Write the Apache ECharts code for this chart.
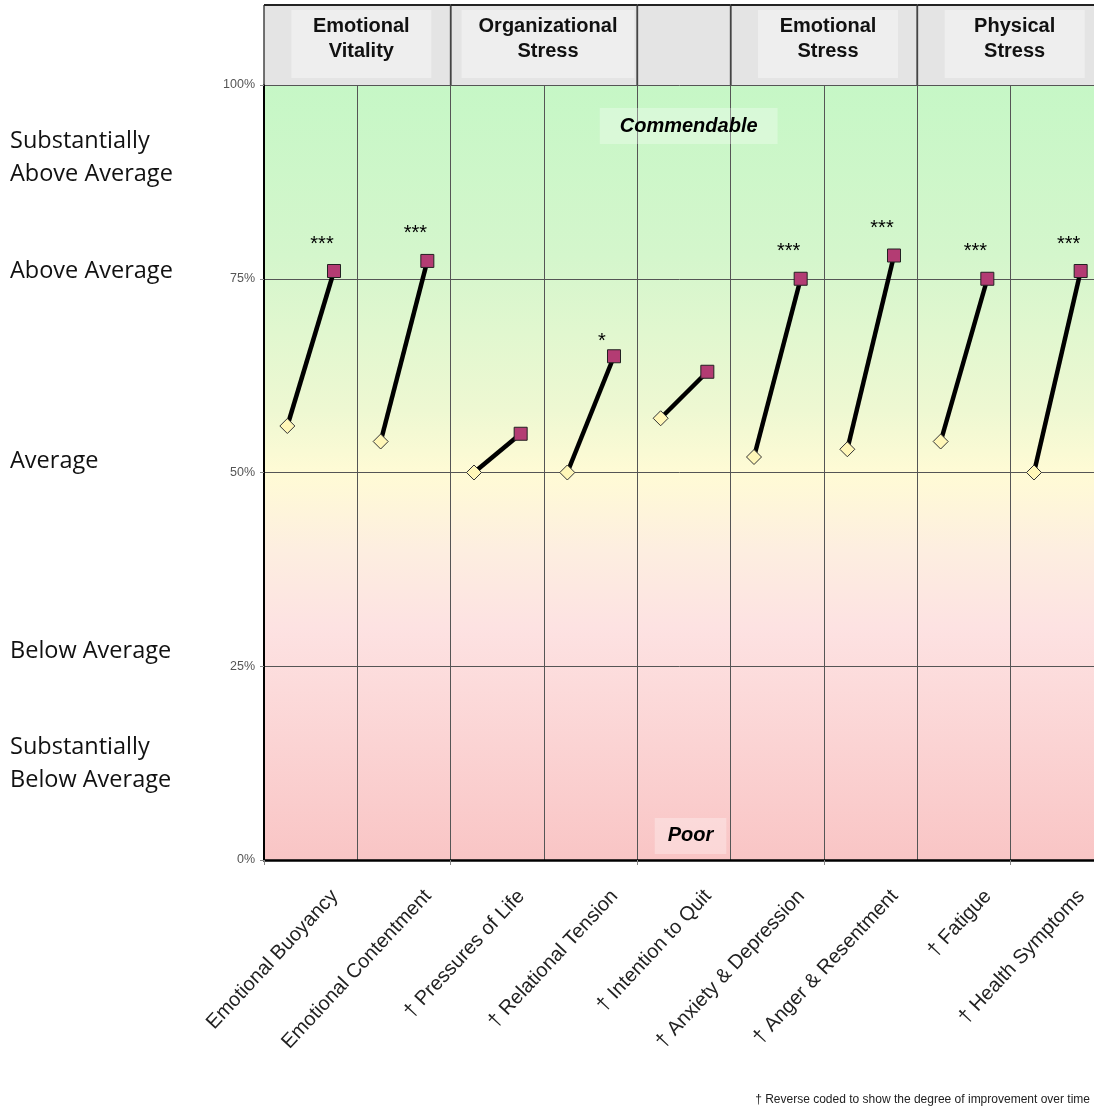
<!DOCTYPE html>
<html><head><meta charset="utf-8">
<script src="https://cdn.jsdelivr.net/npm/echarts@6/dist/echarts.min.js"></script>
<style>html,body{margin:0;padding:0;background:#fff}#c{width:1094px;height:1114px}</style>
</head><body><div id="c"></div>
<script>
const categories = ['Emotional Buoyancy','Emotional Contentment','† Pressures of Life','† Relational Tension','† Intention to Quit','† Anxiety & Depression','† Anger & Resentment','† Fatigue','† Health Symptoms'];
const before = [56, 54, 50, 50, 57, 52, 53, 54, 50];
const after = [76, 77.3, 55, 65, 63, 75, 78, 75, 76];
const significance = ['***','***','','*','','***','***','***','***'];
const groupNames = ['Emotional\nVitality','Organizational\nStress','','Emotional\nStress','Physical\nStress'];
const groupStart = [0, 2, 4, 5, 7];
const groupEnd = [2, 4, 5, 7, 9];
const bandLabels = ['Substantially\nAbove Average','Above Average','Average','Below Average','Substantially\nBelow Average'];
const zoneLabels = ['Commendable','Poor'];
const footnote = '† Reverse coded to show the degree of improvement over time';

const FONT = '"Liberation Sans", Arial, sans-serif';
const chart = echarts.init(document.getElementById('c'));

const mctx = document.createElement('canvas').getContext('2d');
mctx.font = 'bold 20px ' + FONT;
function textW(t){ return Math.max.apply(null, t.split('\n').map(s => mctx.measureText(s).width)); }

function renderHeader(params, api){
  const s = api.value(0), e = api.value(1);
  const p0 = api.coord([s, 1]);
  const p1 = api.coord([e, 0]);
  const name = groupNames[params.dataIndex];
  const cx = (p0[0] + p1[0]) / 2 + 4;
  const children = [];
  if (name) {
    const w = Math.max(textW(name) + 34, 140);
    children.push({type:'rect', shape:{x: cx - w/2, y: p0[1] + 5, width: w, height: p1[1] - p0[1] - 12}, style:{fill:'#eeeeee'}});
    children.push({type:'text', style:{text: name, x: cx, y: (p0[1] + p1[1]) / 2 - 6, align:'center', verticalAlign:'middle', font:'bold 20px ' + FONT, fill:'#111', lineHeight: 25}});
  }
  children.push({type:'line', shape:{x1:p0[0], y1:p0[1], x2:p0[0], y2:p1[1]}, style:{stroke:'#444', lineWidth:1.5}});
  children.push({type:'line', shape:{x1:p1[0], y1:p0[1], x2:p1[0], y2:p1[1]}, style:{stroke:'#444', lineWidth:1.5}});
  children.push({type:'line', shape:{x1:p0[0], y1:p0[1], x2:p1[0], y2:p0[1]}, style:{stroke:'#222', lineWidth:2}});
  return {type:'group', children};
}

function renderSegment(params, api){
  const a = api.coord([api.value(0), api.value(1)]);
  const b = api.coord([api.value(2), api.value(3)]);
  return {type:'line', shape:{x1:a[0], y1:a[1], x2:b[0], y2:b[1]}, style:{stroke:'#000', lineWidth:4.5}};
}

const bandY = [158, 271, 461, 651, 764];
const graphics = bandLabels.map((t, i) => ({
  type:'text', x: 10, y: bandY[i],
  style:{text: t, font: '23.5px "Open Sans", sans-serif', fill:'#111', verticalAlign:'middle', lineHeight: 33}
}));
graphics.push({type:'text', x: 1090, y: 1100, style:{text: footnote, font: '12px ' + FONT, fill:'#222', align:'right', verticalAlign:'middle'}});

const option = {
  animation: false,
  backgroundColor: '#fff',
  grid: [
    {left: 264, top: 85, width: 840, height: 775, show: true, borderWidth: 0, outerBoundsMode: 'none',
     backgroundColor: new echarts.graphic.LinearGradient(0, 0, 0, 1, [
       {offset: 0, color: '#c6f7c6'},
       {offset: 0.22, color: '#d4f6cc'},
       {offset: 0.42, color: '#eef8d2'},
       {offset: 0.5, color: '#fffbd5'},
       {offset: 0.6, color: '#fdeee0'},
       {offset: 0.7, color: '#fde2e2'},
       {offset: 1, color: '#f9c5c5'}
     ])},
    {left: 264, top: 5, width: 840, height: 80, show: true, borderWidth: 0, backgroundColor: '#e4e4e4', outerBoundsMode: 'none'},
    {left: 288, top: 85, width: 840, height: 775, outerBoundsMode: 'none'}
  ],
  xAxis: [
    {type:'category', gridIndex:0, data: categories, boundaryGap: true,
     axisLine:{show:true, lineStyle:{color:'#000', width:2.5}},
     axisTick:{show:true, length:5, lineStyle:{color:'#888'}},
     axisLabel:{show:false},
     splitLine:{show:true, interval:0, lineStyle:{color:'#555', width:1}}},
    {type:'value', gridIndex:0, min:0, max:9, show:false},
    {type:'value', gridIndex:1, min:0, max:9, show:false},
    {type:'category', gridIndex:2, data: categories, boundaryGap: true,
     axisLine:{show:false}, axisTick:{show:false}, splitLine:{show:false},
     axisLabel:{interval:0, rotate:47, margin:33, fontSize:20, color:'#222', fontFamily: FONT}}
  ],
  yAxis: [
    {type:'value', gridIndex:0, min:0, max:100, interval:25,
     axisLabel:{formatter:'{value}%', fontSize:12.5, color:'#555', fontFamily: FONT, margin:9},
     axisLine:{show:true, lineStyle:{color:'#000', width:2}},
     axisTick:{show:true, length:4, lineStyle:{color:'#888'}},
     splitLine:{show:true, lineStyle:{color:'#555', width:1}}},
    {type:'value', gridIndex:1, min:0, max:1, show:false},
    {type:'value', gridIndex:2, min:0, max:100, show:false}
  ],
  graphic: graphics,
  series: [
    {type:'custom', xAxisIndex:2, yAxisIndex:1, renderItem: renderHeader, silent:true,
     data: groupStart.map((s, i) => [s, groupEnd[i]]), encode:{x:[0,1]}, z: 2},
    {type:'custom', xAxisIndex:1, yAxisIndex:0, renderItem: renderSegment, silent:true,
     data: categories.map((c, i) => [i + 0.25, before[i], i + 0.75, after[i]]), encode:{x:[0,2], y:[1,3]}, z: 3},
    {type:'scatter', xAxisIndex:1, yAxisIndex:0, symbol:'diamond', symbolSize:15, z: 4,
     itemStyle:{color:'#fff7b8', borderColor:'#333', borderWidth:1, opacity:1},
     data: before.map((v, i) => [i + 0.25, v])},
    {type:'scatter', xAxisIndex:1, yAxisIndex:0, symbol:'rect', symbolSize:13, z: 5,
     itemStyle:{color:'#b33c73', borderColor:'#222', borderWidth:1, opacity:1},
     data: after.map((v, i) => ({value:[i + 0.75, v],
       label:{show: !!significance[i], formatter: significance[i], position:'top', distance: 10,
              offset: significance[i] === '*' ? [-12, 12] : [-12, 0],
              fontSize: 20, color:'#000', fontFamily: FONT}}))},
    {type:'scatter', xAxisIndex:1, yAxisIndex:0, symbolSize:0, z: 6, silent:true,
     itemStyle:{opacity:1},
     data: [
       {value:[4.55, 94.7], label:{show:true, position:'inside', formatter: zoneLabels[0], padding:[8, 20], backgroundColor:'rgba(255,255,255,0.3)',
         fontSize:20, fontWeight:'bold', fontStyle:'italic', color:'#000', fontFamily: FONT}},
       {value:[4.57, 3.1], label:{show:true, position:'inside', formatter: zoneLabels[1], padding:[8, 13], backgroundColor:'rgba(255,255,255,0.3)',
         fontSize:20, fontWeight:'bold', fontStyle:'italic', color:'#000', fontFamily: FONT}}
     ]}
  ]
};
chart.setOption(option);
</script>
</body></html>
